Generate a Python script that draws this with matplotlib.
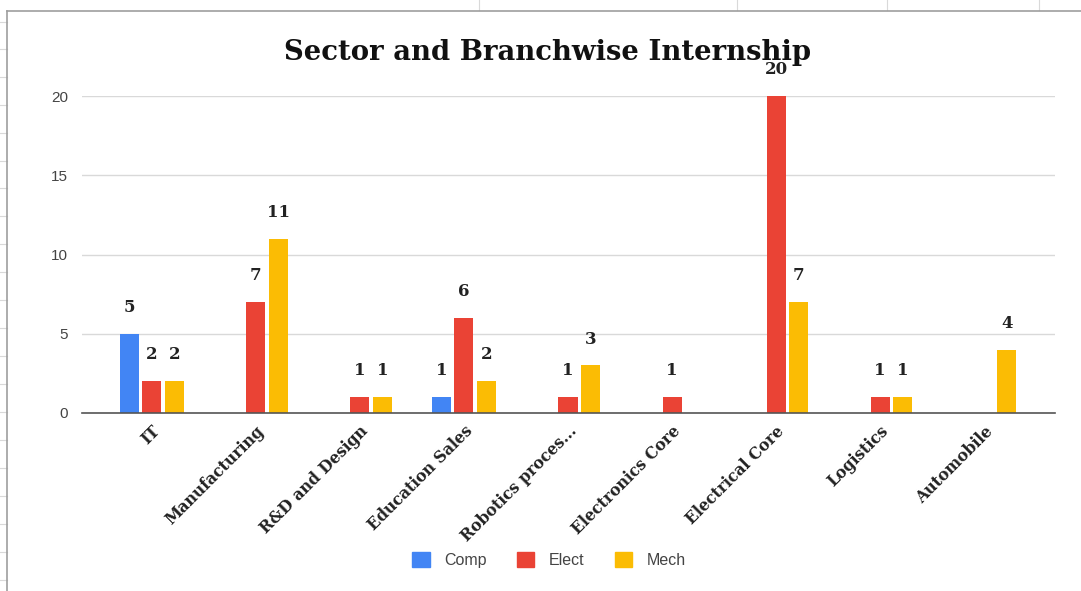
import matplotlib
matplotlib.use("Agg")
import matplotlib.pyplot as plt
from matplotlib.lines import Line2D
from matplotlib.patches import Patch
import numpy as np

categories = ["IT", "Manufacturing", "R&D and Design", "Education Sales",
              "Robotics proces...", "Electronics Core", "Electrical Core",
              "Logistics", "Automobile"]
series_names = ["Comp", "Elect", "Mech"]
comp = [5, None, None, 1, None, None, None, None, None]
elect = [2, 7, 1, 6, 1, 1, 20, 1, None]
mech = [2, 11, 1, 2, 3, None, 7, 1, 4]
yticks = [0, 5, 10, 15, 20]

colors = ["#4285F4", "#EA4335", "#FBBC04"]
W, H = 1081, 591
fig = plt.figure(figsize=(W / 100, H / 100), dpi=100)
fig.patch.set_facecolor("white")

# spreadsheet background bits
for yy in [22, 49, 77, 105, 133, 161, 188, 216, 244, 272, 300, 328, 356, 384, 412, 440, 468, 496, 524, 552, 580]:
    fig.add_artist(Line2D([0, 7 / W], [1 - yy / H, 1 - yy / H], color="#d9d9d9", lw=0.8))
for xx in [479, 737, 887, 1039]:
    fig.add_artist(Line2D([xx / W, xx / W], [1, 1 - 10 / H], color="#d9d9d9", lw=0.8))
fig.add_artist(Line2D([7 / W, 1.0], [1 - 11 / H, 1 - 11 / H], color="#9e9e9e", lw=1.2))
fig.add_artist(Line2D([7 / W, 7 / W], [0, 1 - 11 / H], color="#9e9e9e", lw=1.2))

ax = fig.add_axes([82 / W, 1 - 413 / H, (1055 - 82) / W, (413 - 96) / H])
x = np.arange(len(categories))
offs = [-0.217, 0.0, 0.217]
bw = 0.183
for s, (vals, c, off) in enumerate(zip([comp, elect, mech], colors, offs)):
    for i, v in enumerate(vals):
        if v is None:
            continue
        ax.bar(x[i] + off, v, width=bw, color=c, zorder=3, clip_on=False)
        ax.annotate(str(v), (x[i] + off, v), xytext=(0, 19), textcoords="offset points",
                    ha="center", va="center", fontsize=12, fontweight="bold",
                    family="DejaVu Serif", color="#222222", zorder=4, annotation_clip=False)

ax.set_xlim(-0.67, len(categories) - 1 + 0.68)
ax.set_ylim(0, 20)
ax.set_yticks(yticks)
ax.set_yticklabels([str(t) for t in yticks], fontsize=11, color="#444444", family="Liberation Sans")
ax.grid(axis="y", color="#d9d9d9", lw=1, zorder=0)
ax.set_xticks(x)
ax.set_xticklabels(categories, rotation=45, ha="right", va="top", rotation_mode="anchor",
                   fontsize=11.3, fontweight="bold", family="DejaVu Serif", color="#222222")
ax.tick_params(axis="x", length=0, pad=7)
ax.tick_params(axis="y", length=0, pad=10)
for sp in ["top", "right", "left"]:
    ax.spines[sp].set_visible(False)
ax.spines["bottom"].set_color("#555555")
ax.spines["bottom"].set_linewidth(1.2)
ax.spines["bottom"].set_zorder(5)

fig.text(548 / W, 1 - 52 / H, "Sector and Branchwise Internship", ha="center", va="center",
         fontsize=19.8, fontweight="bold", family="DejaVu Serif", color="#111111")

handles = [Patch(facecolor=c, edgecolor=c) for c in colors]
leg = fig.legend(handles, series_names, loc="center", bbox_to_anchor=(549 / W, 1 - 560 / H),
                 ncol=3, frameon=False, fontsize=11.5, handlelength=1.1, handleheight=1.1,
                 columnspacing=1.9, handletextpad=0.9)
for t in leg.get_texts():
    t.set_color("#444444")
    t.set_family("Liberation Sans")

fig.savefig("out.png", dpi=100, facecolor="white")
